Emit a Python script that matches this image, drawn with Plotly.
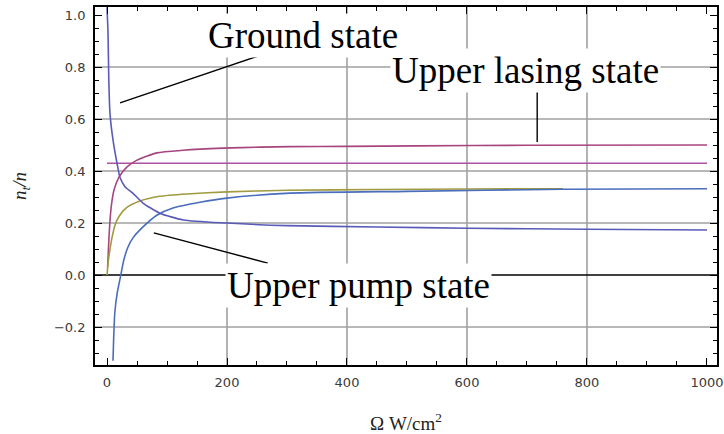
import plotly.graph_objects as go

# ---- data ----
ground_x = [0, 1.7, 3, 5, 10, 16.7, 21.7, 30, 43, 60, 88, 127, 200, 300, 450, 600, 800, 1000]
ground_y = [1.03, 0.93, 0.75, 0.62, 0.52, 0.43, 0.375, 0.34, 0.315, 0.277, 0.238, 0.212, 0.2, 0.19, 0.185, 0.18, 0.176, 0.173]

lasing_x = [1, 3, 5, 8, 12, 20, 33, 50, 83, 127, 193, 255, 305, 400, 517, 700, 1000]
lasing_y = [0.03, 0.13, 0.21, 0.28, 0.33, 0.377, 0.415, 0.442, 0.47, 0.48, 0.488, 0.492, 0.494, 0.495, 0.497, 0.499, 0.5]

flat_x = [0, 1000]
flat_y = [0.43, 0.43]

olive_x = [0, 2, 5, 8, 13, 20, 33, 55, 88, 133, 200, 300, 450, 600, 760]
olive_y = [0.0, 0.05, 0.10, 0.14, 0.19, 0.225, 0.26, 0.285, 0.303, 0.312, 0.32, 0.326, 0.329, 0.331, 0.332]

pump_x = [10, 11, 13, 17, 23, 28, 35, 43, 60, 83, 110, 155, 200, 305, 500, 760, 1000]
pump_y = [-0.33, -0.25, -0.146, -0.07, 0.0, 0.058, 0.108, 0.142, 0.185, 0.23, 0.258, 0.28, 0.296, 0.315, 0.322, 0.33, 0.332]

x_ticks = [0, 200, 400, 600, 800, 1000]
y_ticks = [-0.2, 0.0, 0.2, 0.4, 0.6, 0.8, 1.0]
x_grid = [200, 400, 600, 800]
y_grid = [-0.2, 0.2, 0.4, 0.6, 0.8]

SERIF = "Liberation Serif"

fig = go.Figure()
lw = 1.6
fig.add_trace(go.Scatter(x=flat_x, y=flat_y, mode="lines", line=dict(color="#B050A0", width=lw), showlegend=False))
fig.add_trace(go.Scatter(x=lasing_x, y=lasing_y, mode="lines", line=dict(color="#A8457F", width=lw, shape="spline", smoothing=0.6), showlegend=False))
fig.add_trace(go.Scatter(x=olive_x, y=olive_y, mode="lines", line=dict(color="#A09A40", width=lw, shape="spline", smoothing=0.6), showlegend=False))
fig.add_trace(go.Scatter(x=pump_x, y=pump_y, mode="lines", line=dict(color="#4A6EBB", width=lw, shape="spline", smoothing=0.6), showlegend=False))
fig.add_trace(go.Scatter(x=ground_x, y=ground_y, mode="lines", line=dict(color="#5A5AB8", width=lw, shape="spline", smoothing=0.6), showlegend=False))

shapes = []
for gx in x_grid:
    shapes.append(dict(type="line", xref="x", yref="paper", x0=gx, x1=gx, y0=0, y1=1,
                       line=dict(color="#A0A0A0", width=1.6), layer="below"))
for gy in y_grid:
    shapes.append(dict(type="line", xref="paper", yref="y", x0=0, x1=1, y0=gy, y1=gy,
                       line=dict(color="#A0A0A0", width=1.6), layer="below"))
shapes.append(dict(type="line", xref="paper", yref="y", x0=0, x1=1, y0=0, y1=0,
                   line=dict(color="black", width=1.6), layer="below"))
# pointer lines
ptr = dict(color="black", width=1.4)
shapes.append(dict(type="line", x0=21.7, y0=0.662, x1=267, y1=0.854, line=ptr))
shapes.append(dict(type="line", x0=717, y0=0.731, x1=717, y1=0.512, line=ptr))
shapes.append(dict(type="line", x0=78, y0=0.162, x1=268, y1=0.046, line=ptr))

lab_font = dict(family=SERIF, size=37, color="black")
annotations = [
    dict(x=327, y=0.92, text="Ground state", showarrow=False, font=lab_font, bgcolor="white", borderpad=1),
    dict(x=697, y=0.785, text="Upper lasing state", showarrow=False, font=lab_font, bgcolor="white", borderpad=1),
    dict(x=420, y=-0.04, text="Upper pump state", showarrow=False, font=lab_font, bgcolor="white", borderpad=1),
    dict(x=(21 - 95) / 622, y=(434 - 186 - 69) / 358, xref="paper", yref="paper", xanchor="center", yanchor="middle",
         text="<i>n<sub>t</sub>/n</i>", textangle=-90, showarrow=False,
         font=dict(family=SERIF, size=19, color="#222")),
]

tickfont = dict(family="DejaVu Sans", size=13, color="#3a3a3a")
fig.update_layout(
    width=724, height=434,
    margin=dict(l=95, r=7, t=7, b=69, autoexpand=False),
    paper_bgcolor="white", plot_bgcolor="white",
    shapes=shapes,
    annotations=annotations,
    xaxis=dict(range=[-20, 1016.7], tickvals=x_ticks, ticks="inside", ticklen=7, tickwidth=1.3,
               tickcolor="black", showline=True, linecolor="black", linewidth=1.8, mirror="allticks",
               showgrid=False, zeroline=False, tickfont=tickfont, ticklabelstandoff=4, automargin=False,
               minor=dict(dtick=50, tick0=0, ticks="inside", ticklen=4, tickcolor="black", tickwidth=1.1, showgrid=False),
               title=dict(text="Ω W/cm<sup>2</sup>", font=dict(family=SERIF, size=19, color="#222"), standoff=30)),
    yaxis=dict(range=[-0.346, 1.031], tickvals=y_ticks, tickformat=".1f", ticks="inside", ticklen=7, tickwidth=1.3,
               tickcolor="black", showline=True, linecolor="black", linewidth=1.8, mirror="allticks",
               showgrid=False, zeroline=False, tickfont=tickfont, ticklabelstandoff=5, automargin=False,
               minor=dict(dtick=0.05, tick0=0, ticks="inside", ticklen=4, tickcolor="black", tickwidth=1.1, showgrid=False)),
)

fig.write_html("out.html")
